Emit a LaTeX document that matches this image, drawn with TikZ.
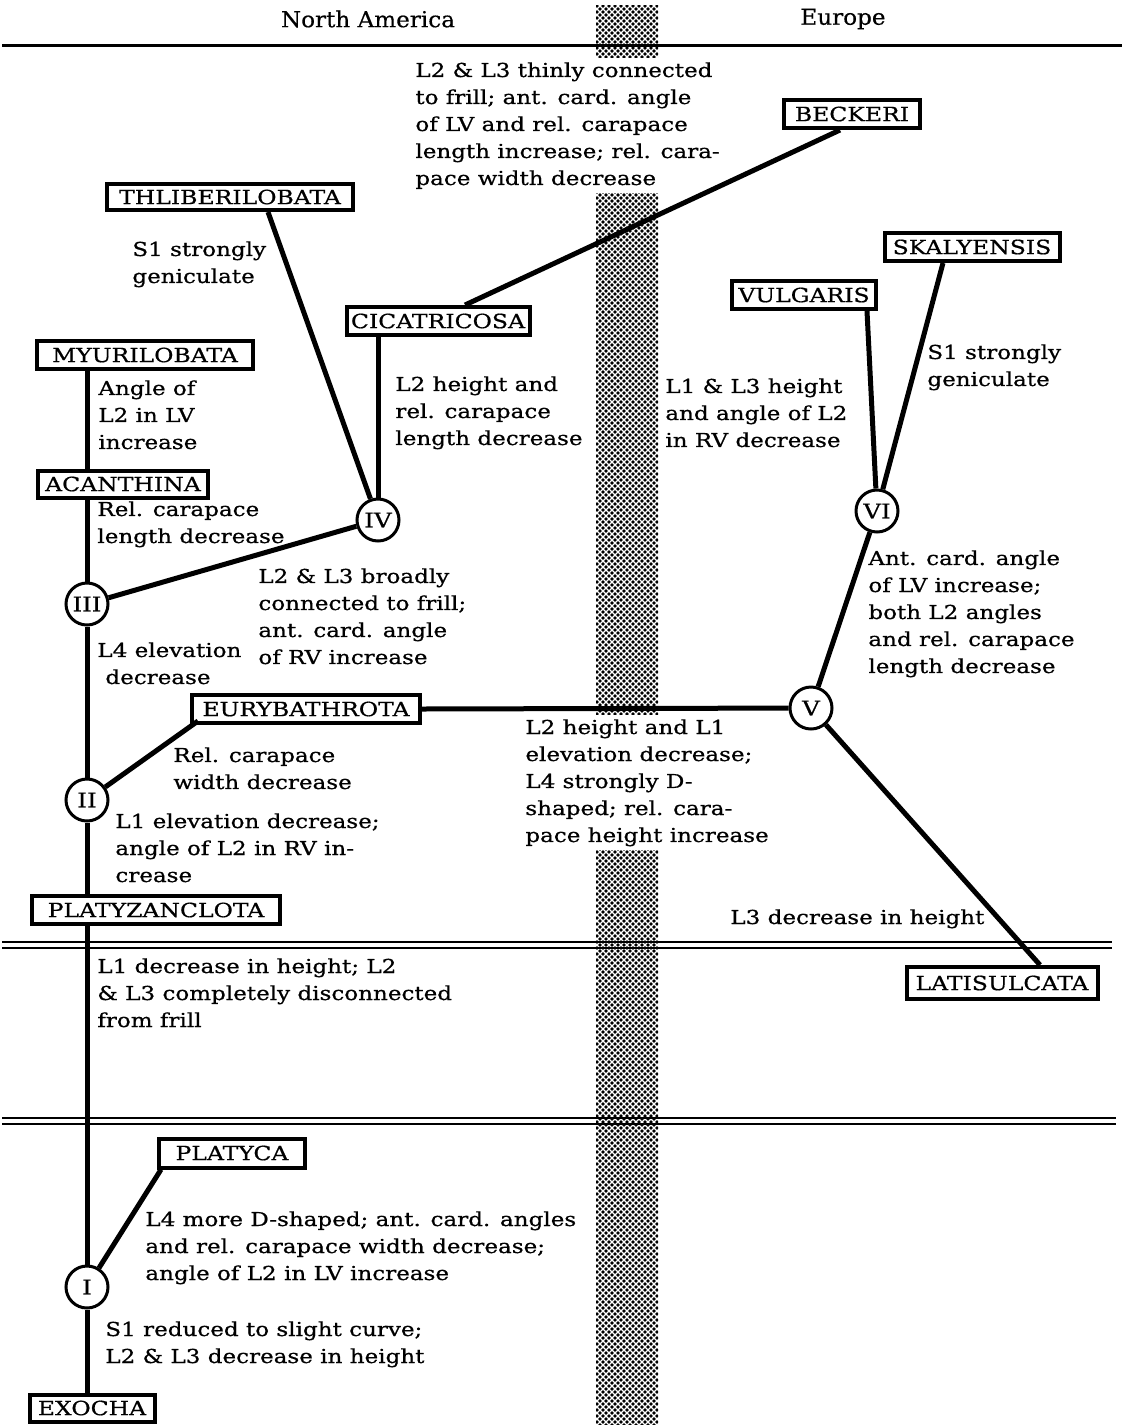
\documentclass[tikz,border=0pt]{standalone}
\usepackage{fontspec}
\setmainfont[FakeStretch=1.2,FakeBold=0.7]{DejaVu Serif}
\newfontfamily\headfont[FakeStretch=1.05,FakeBold=0.4]{DejaVu Serif}
\usetikzlibrary{patterns}
\pgfdeclarepatternformonly{stip}{\pgfqpoint{-1pt}{-1pt}}{\pgfqpoint{4pt}{4pt}}{\pgfqpoint{3pt}{3pt}}{%
  \pgfpathcircle{\pgfqpoint{0pt}{0pt}}{0.9pt}%
  \pgfpathcircle{\pgfqpoint{1.5pt}{1.5pt}}{0.9pt}%
  \pgfusepath{fill}}
\tikzset{
  taxon/.style={draw, line width=2pt, fill=white, inner sep=0pt, font=\fontsize{9.8}{11}\selectfont},
  branch/.style={circle, draw, line width=1.5pt, fill=white, minimum size=21pt, inner sep=0pt, font=\fontsize{10.2}{11}\selectfont},
  note/.style={anchor=north west, align=left, inner sep=0pt, font=\fontsize{9.6}{13.5}\selectfont},
  masked/.style={note, fill=white, inner sep=2pt},
  link/.style={line width=2.5pt},
  rule/.style={line width=1.5pt},
  thin rule/.style={line width=1pt},
  header/.style={inner sep=0pt, font=\headfont\fontsize{11}{12}\selectfont}
}
\begin{document}
\begin{tikzpicture}[x=0.5pt,y=-0.5pt]
\useasboundingbox (0,0) rectangle (1126,1425);
% stippled band
\fill[pattern=stip] (596,5) rectangle (658,1425);
% rules
\node[header] (na) at (368,19) {North America};
\node[header] (eu) at (843,19) {Europe};
\coordinate (r0l) at (2,45); \coordinate (r0r) at (1122,45);
\draw[rule] (r0l) -- (r0r);
\coordinate (r1l) at (2,942); \coordinate (r1r) at (1112,942);
\coordinate (r2l) at (2,948); \coordinate (r2r) at (1112,948);
\coordinate (r3l) at (2,1118); \coordinate (r3r) at (1116,1118);
\coordinate (r4l) at (2,1124); \coordinate (r4r) at (1116,1124);
\draw[thin rule] (r1l) -- (r1r);
\draw[thin rule] (r2l) -- (r2r);
\draw[thin rule] (r3l) -- (r3r);
\draw[thin rule] (r4l) -- (r4r);

% notes
\node[masked] (n1) at (411,58) {L2 \& L3 thinly connected\\to frill; ant. card. angle\\of LV and rel. carapace\\length increase; rel. cara-\\pace width decrease};
\node[note] (n2) at (132,241) {S1 strongly\\geniculate};
\node[note] (n3) at (98,380) {Angle of\\L2 in LV\\increase};
\node[note] (n4) at (395,376) {L2 height and\\rel. carapace\\length decrease};
\node[note] (n5) at (665,378) {L1 \& L3 height\\and angle of L2\\in RV decrease};
\node[note] (n6) at (927,344) {S1 strongly\\geniculate};
\node[note] (n7) at (97,501) {Rel. carapace\\length decrease};
\node[note] (n8) at (258,568) {L2 \& L3 broadly\\connected to frill;\\ant. card. angle\\of RV increase};
\node[note] (n9) at (97,642) {L4 elevation\\\hspace*{4pt}decrease};
\node[note] (n10) at (868,550) {Ant. card. angle\\of LV increase;\\both L2 angles\\and rel. carapace\\length decrease};
\node[note] (n11) at (173,747) {Rel. carapace\\width decrease};
\node[masked] (n12) at (521,715) {L2 height and L1\\elevation decrease;\\L4 strongly D-\\shaped; rel. cara-\\pace height increase};
\node[note] (n13) at (115,813) {L1 elevation decrease;\\angle of L2 in RV in-\\crease};
\node[note] (n14) at (730,909) {L3 decrease in height};
\node[note] (n15) at (97,958) {L1 decrease in height; L2\\\& L3 completely disconnected\\from frill};
\node[note] (n16) at (145,1211) {L4 more D-shaped; ant. card. angles\\and rel. carapace width decrease;\\angle of L2 in LV increase};
\node[note] (n17) at (105,1321) {S1 reduced to slight curve;\\L2 \& L3 decrease in height};

% taxa
\node[taxon, minimum width=68pt, minimum height=14pt] (beck) at (852,114) {BECKERI};
\node[taxon, minimum width=123pt, minimum height=13pt] (thli) at (230,197) {THLIBERILOBATA};
\node[taxon, minimum width=91.5pt, minimum height=14pt] (cica) at (438,321) {CICATRICOSA};
\node[taxon, minimum width=87.5pt, minimum height=14pt] (skal) at (972,247) {SKALYENSIS};
\node[taxon, minimum width=72pt, minimum height=14pt] (vulg) at (804,295) {VULGARIS};
\node[taxon, minimum width=108pt, minimum height=14pt] (myur) at (145,355) {MYURILOBATA};
\node[taxon, minimum width=85pt, minimum height=13.5pt] (acan) at (123,484) {ACANTHINA};
\node[taxon, minimum width=114pt, minimum height=14pt] (eury) at (306,709) {EURYBATHROTA};
\node[taxon, minimum width=124pt, minimum height=14pt] (plaz) at (156,910) {PLATYZANCLOTA};
\node[taxon, minimum width=95.5pt, minimum height=16pt] (lati) at (1002,983) {LATISULCATA};
\node[taxon, minimum width=73pt, minimum height=14.5pt] (plac) at (232,1153) {PLATYCA};
\node[taxon, minimum width=62.5pt, minimum height=13.5pt] (exoc) at (92,1408) {EXOCHA};

% branch points
\node[branch] (IV) at (378,520) {IV};
\node[branch] (III) at (87,604) {III};
\node[branch] (II) at (87,800) {II};
\node[branch] (I) at (87,1287) {I};
\node[branch] (VI) at (877,511) {VI};
\node[branch] (V) at (811,708) {V};

% connectors
\draw[link] (myur.south -| III) -- (acan.north -| III);
\draw[link] (acan.south -| III) -- (III);
\draw[link] (III) -- (II);
\draw[link] (II) -- (plaz.north -| II);
\draw[link] (plaz.south -| I) -- (I);
\draw[link] (I) -- (exoc.north -| I);
\draw[link] (III) -- (IV);
\draw[link] ([xshift=19pt]thli.south) -- (IV);
\draw[link] (IV) -- (IV |- cica.south);
\draw[link] ([xshift=13.5pt]cica.north) -- ([xshift=-6pt]beck.south);
\draw[link] (II) -- ([xshift=4pt,yshift=2pt]eury.south west);
\draw[link] (eury.east) -- (V);
\draw[link] (V) -- (VI);
\draw[link] (VI) -- ([xshift=31.5pt]vulg.south);
\draw[link] (VI) -- ([xshift=-14.5pt]skal.south);
\draw[link] (V) -- ([xshift=19pt]lati.north);
\draw[link] (I) -- ([xshift=2pt]plac.south west);
\end{tikzpicture}
\end{document}
